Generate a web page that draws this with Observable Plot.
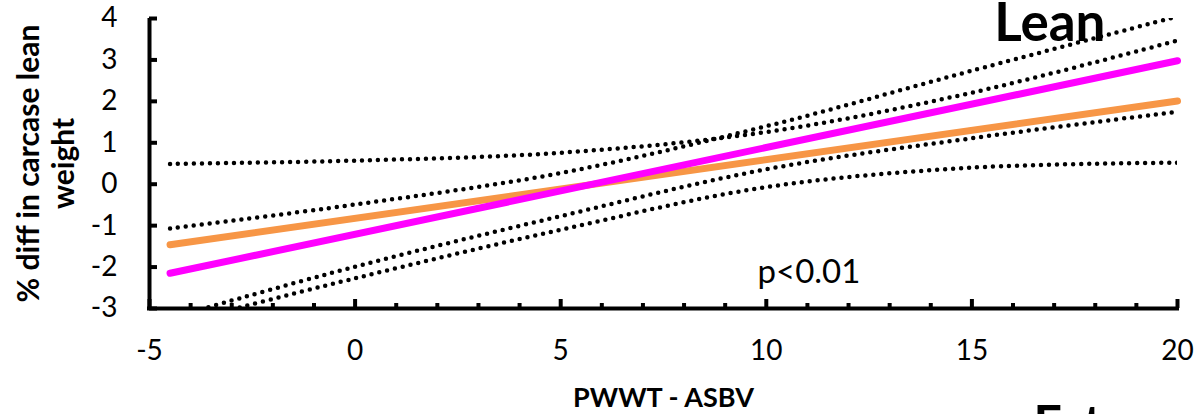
<!DOCTYPE html>
<html><head><meta charset="utf-8">
<script src="https://cdn.jsdelivr.net/npm/d3@7"></script>
<script src="https://cdn.jsdelivr.net/npm/@observablehq/plot@0.6"></script>
<style>body{margin:0;background:#fff;overflow:hidden}</style>
</head><body><div id="chart"></div>
<script>
// Regression lines
const xFit = [-4.5, 20];
const magentaFit = [-2.15, 2.98];
const orangeFit = [-1.46, 2.01];
// Confidence bands (dotted), read at these x values
const bandX = [-4.5, 0, 5, 10, 15, 20];
const magentaUpper = [-1.07, -0.49, 0.27, 1.40, 2.74, 4.05];
const magentaLower = [-3.23, -1.99, -0.77, 0.36, 1.11, 1.75];
const orangeUpper = [0.49, 0.57, 0.76, 1.26, 2.21, 3.47];
const orangeLower = [-3.41, -2.27, -1.10, -0.07, 0.40, 0.52];
// Axes
const yTicks = [-3, -2, -1, 0, 1, 2, 3, 4];
const xMajor = [-5, 0, 5, 10, 15, 20];
const xMinor = [-4, -3, -2, -1, 1, 2, 3, 4, 6, 7, 8, 9, 11, 12, 13, 14, 16, 17, 18, 19];
const yTitle = "% diff in carcase lean\nweight";
const xTitle = "PWWT - ASBV";
const panelTitle = "Lean";
const nextPanelTitle = "Fat";
const pText = "p<0.01";

const toRows = (xs, ys) => xs.map((x, i) => ({x, y: ys[i]}));
const bands = [magentaUpper, magentaLower, orangeUpper, orangeLower];

const chart = Plot.plot({
  width: 1197, height: 414,
  marginLeft: 149, marginRight: 20, marginTop: 18, marginBottom: 106,
  x: {domain: [-5, 20], label: null},
  y: {domain: [-3, 4], label: null},
  style: {fontFamily: "Lato", background: "white", color: "black"},
  marks: [
    ...bands.map(b => Plot.line(toRows(bandX, b), {x: "x", y: "y", curve: "catmull-rom", stroke: "black", strokeWidth: 4.5, strokeDasharray: "0 8", strokeLinecap: "round", clip: true})),
    Plot.line(toRows(xFit, orangeFit), {x: "x", y: "y", stroke: "#F79646", strokeWidth: 7}),
    Plot.line(toRows(xFit, magentaFit), {x: "x", y: "y", stroke: "#FF00FF", strokeWidth: 7}),
    Plot.ruleX([xMajor[0]], {y1: yTicks[0], y2: yTicks[yTicks.length - 1], stroke: "black", strokeWidth: 4}),
    Plot.ruleY([yTicks[0]], {x1: xMajor[0], x2: xMajor[xMajor.length - 1], stroke: "black", strokeWidth: 4, strokeLinecap: "square"}),
    Plot.axisY(yTicks, {tickSize: -8, tickPadding: 40, fontSize: 28, strokeWidth: 4, label: null, tickFormat: d => d}),
    Plot.axisX(xMajor, {tickSize: -9, tickPadding: 41, fontSize: 28, strokeWidth: 4, label: null, tickFormat: d => d}),
    Plot.axisX(xMinor, {tickSize: -5, tickPadding: 0, strokeWidth: 4, label: null, tickFormat: () => ""}),
    Plot.text([yTitle], {frameAnchor: "left", rotate: -90, dx: -104, fontSize: 30, fontWeight: "bold", lineHeight: 1.17, textAnchor: "middle", lineAnchor: "middle"}),
    Plot.text([xTitle], {frameAnchor: "bottom", dy: 98, fontSize: 27, fontWeight: "bold", lineAnchor: "bottom"}),
    Plot.text([panelTitle], {frameAnchor: "top-right", dx: -72, dy: 22, fontSize: 53, fontWeight: "bold", textAnchor: "end", lineAnchor: "bottom"}),
    Plot.text([pText], {frameAnchor: "bottom-left", dx: 757 - 149, dy: -26, fontSize: 33, textAnchor: "start", lineAnchor: "bottom"}),
    Plot.text([nextPanelTitle], {frameAnchor: "bottom-right", dx: -144, dy: 97, fontSize: 50, fontWeight: "bold", textAnchor: "start", lineAnchor: "top"})
  ]
});
document.getElementById("chart").appendChild(chart);
</script>
</body></html>
